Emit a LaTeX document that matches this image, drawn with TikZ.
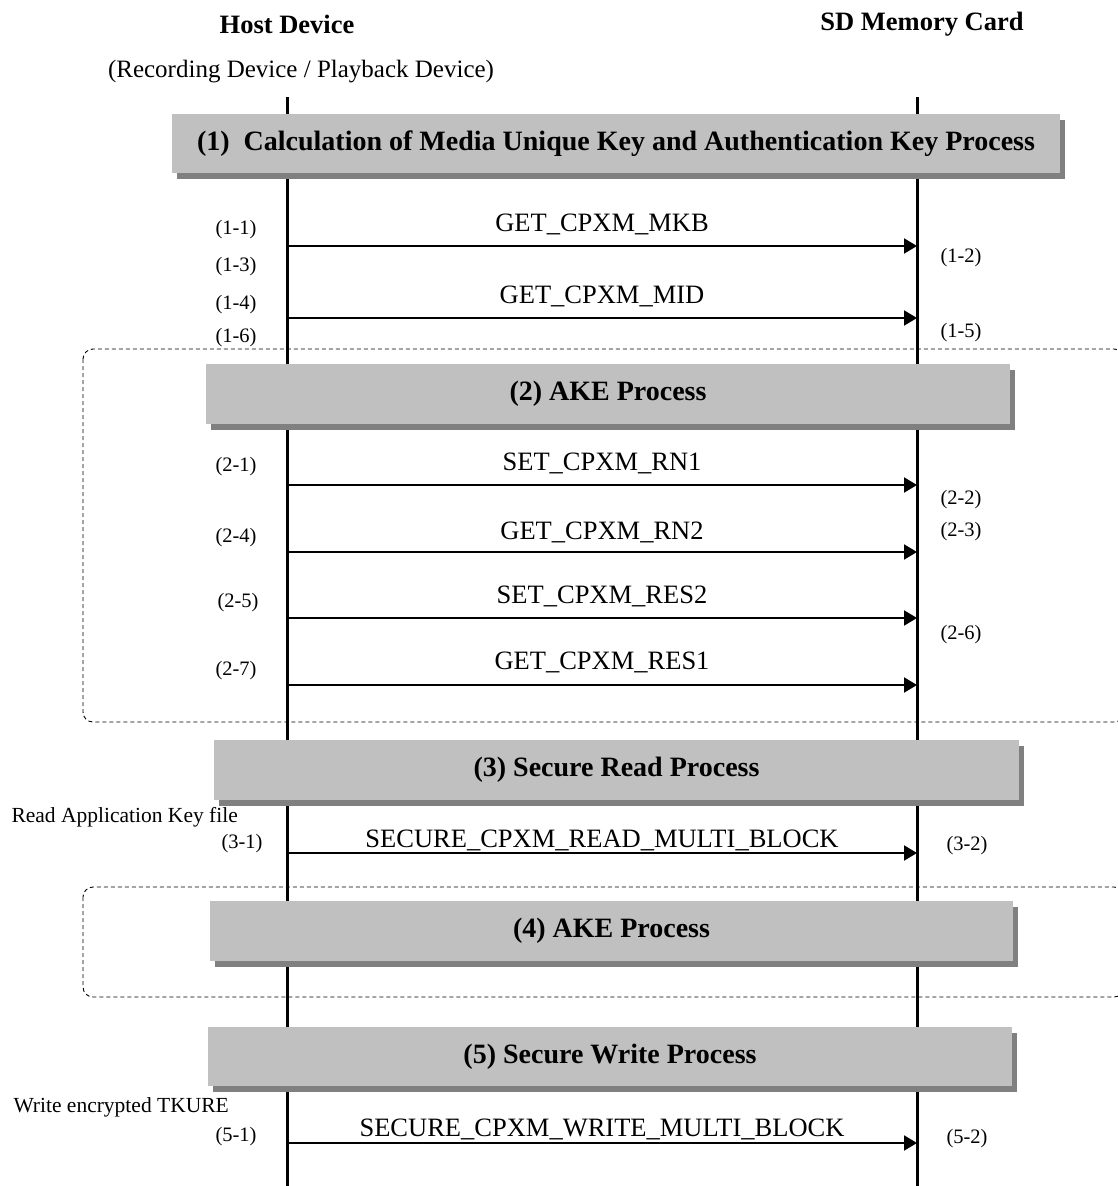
\documentclass[tikz,border=0pt]{standalone}
\usepackage{fontspec}
\setmainfont{Liberation Serif}
\usetikzlibrary{arrows.meta,shadows}
\definecolor{boxgray}{HTML}{C0C0C0}
\definecolor{shadegray}{HTML}{808080}
\begin{document}
\begin{tikzpicture}[x=1pt,y=-1pt,
  lifeline/.style={line width=3pt},
  msg/.style={line width=2pt,-{Triangle[length=13pt,width=15pt]}},
  group/.style={dash pattern=on 4pt off 3pt,line width=0.9pt,rounded corners=10pt},
  procbox/.style={fill=boxgray,draw=none,inner sep=0pt,outer sep=0pt,anchor=north west,
    drop shadow={shadow xshift=5pt,shadow yshift=-6pt,fill=shadegray,opacity=1},
    font=\fontsize{28}{30}\selectfont\bfseries},
  head/.style={font=\fontsize{26.5}{29}\selectfont\bfseries},
  msglabel/.style={font=\fontsize{26.5}{29}\selectfont,anchor=base},
  stepno/.style={font=\fontsize{20.5}{23}\selectfont},
  note/.style={font=\fontsize{21.5}{24}\selectfont,anchor=west}
]
\useasboundingbox (0,0) rectangle (1118,1186);

% participants
\node[head] (host) at (287,24) {Host Device};
\node[head] (card) at (922,24) {SD Memory Card};
\node[font=\fontsize{25}{28}\selectfont] (hostsub) at (301,72) {(Recording Device / Playback Device)};

% dashed groups around the AKE processes (right side runs past the page edge)
\draw[group] (83,349) rectangle (1124,722);
\draw[group] (83,887) rectangle (1124,997);

% lifelines
\coordinate (hTop) at (287,97);
\coordinate (hBot) at (287,1186);
\coordinate (cTop) at (917,97);
\coordinate (cBot) at (917,1186);
\draw[lifeline] (hTop) -- (hBot);
\draw[lifeline] (cTop) -- (cBot);

% process boxes
\node[procbox,minimum width=888pt,minimum height=59pt] (p1) at (172,114)
  {(1)\ \ Calculation of Media Unique Key and Authentication Key Process};
\node[procbox,minimum width=804pt,minimum height=60pt] (p2) at (206,364) {(2) AKE Process};
\node[procbox,minimum width=805pt,minimum height=60pt] (p3) at (214,740) {(3) Secure Read Process};
\node[procbox,minimum width=803pt,minimum height=60pt] (p4) at (210,901) {(4) AKE Process};
\node[procbox,minimum width=804pt,minimum height=59pt] (p5) at (208,1027) {(5) Secure Write Process};

% message end points on the lifelines
\foreach \n/\yy in {m1/246,m2/318,m3/485,m4/552,m5/618,m6/685,m7/853,m8/1143}{
  \coordinate (\n h) at (287,\yy);
  \coordinate (\n c) at (917,\yy);
}

% messages
\draw[msg] (m1h) -- (m1c) node[msglabel,pos=0.5,yshift=15pt] (l1) {GET\_CPXM\_MKB};
\draw[msg] (m2h) -- (m2c) node[msglabel,pos=0.5,yshift=15pt] (l2) {GET\_CPXM\_MID};
\draw[msg] (m3h) -- (m3c) node[msglabel,pos=0.5,yshift=15pt] (l3) {SET\_CPXM\_RN1};
\draw[msg] (m4h) -- (m4c) node[msglabel,pos=0.5,yshift=13pt] (l4) {GET\_CPXM\_RN2};
\draw[msg] (m5h) -- (m5c) node[msglabel,pos=0.5,yshift=15pt] (l5) {SET\_CPXM\_RES2};
\draw[msg] (m6h) -- (m6c) node[msglabel,pos=0.5,yshift=16pt] (l6) {GET\_CPXM\_RES1};
\draw[msg] (m7h) -- (m7c) node[msglabel,pos=0.5,yshift=6pt] (l7) {SECURE\_CPXM\_READ\_MULTI\_BLOCK};
\draw[msg] (m8h) -- (m8c) node[msglabel,pos=0.5,yshift=7pt] (l8) {SECURE\_CPXM\_WRITE\_MULTI\_BLOCK};

% step numbers, host side
\node[stepno] (s11) at (236,230) {(1-1)};
\node[stepno] (s13) at (236,267) {(1-3)};
\node[stepno] (s14) at (236,305) {(1-4)};
\node[stepno] (s16) at (236,338) {(1-6)};
\node[stepno] (s21) at (236,467) {(2-1)};
\node[stepno] (s24) at (236,538) {(2-4)};
\node[stepno] (s25) at (238,603) {(2-5)};
\node[stepno] (s27) at (236,671) {(2-7)};
\node[stepno] (s31) at (242,844) {(3-1)};
\node[stepno] (s51) at (236,1137) {(5-1)};

% step numbers, card side
\node[stepno] (s12) at (961,258) {(1-2)};
\node[stepno] (s15) at (961,333) {(1-5)};
\node[stepno] (s22) at (961,500) {(2-2)};
\node[stepno] (s23) at (961,532) {(2-3)};
\node[stepno] (s26) at (961,635) {(2-6)};
\node[stepno] (s32) at (967,846) {(3-2)};
\node[stepno] (s52) at (967,1139) {(5-2)};

% notes
\node[note] (readnote) at (8,817) {Read Application Key file};
\node[note] (writenote) at (10,1107) {Write encrypted TKURE};
\end{tikzpicture}
\end{document}
